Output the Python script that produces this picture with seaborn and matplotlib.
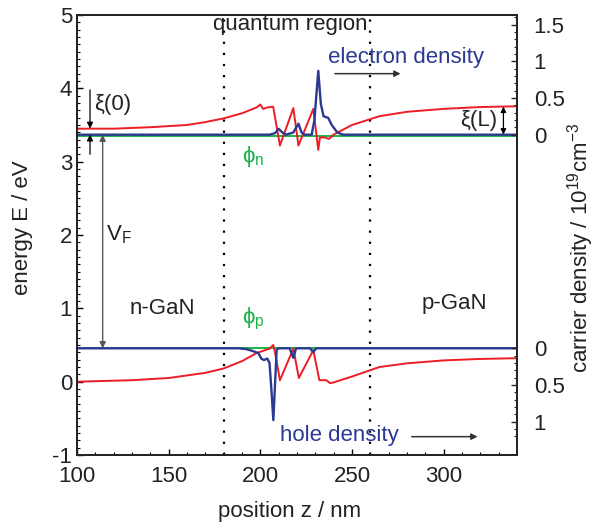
import numpy as np
import pandas as pd
import matplotlib
matplotlib.use("Agg")
import matplotlib.pyplot as plt
import seaborn as sns

# ---------------- data ----------------
# conduction band edge (eV)
cb_x = [100, 120, 140, 160, 170, 180, 190, 198, 200, 201.5, 204, 207, 210.7, 218, 220.8,
        228.9, 231.6, 232.5, 235, 237.5, 240, 250, 265, 280, 300, 320, 340]
cb_e = [3.45, 3.45, 3.47, 3.50, 3.54, 3.59, 3.66, 3.74, 3.78, 3.72, 3.74, 3.75, 3.22, 3.73, 3.22,
        3.72, 3.16, 3.33, 3.33, 3.31, 3.37, 3.50, 3.62, 3.68, 3.72, 3.745, 3.755]
# valence band edge (eV)
vb_x = [100, 130, 150, 170, 180, 190, 198, 205, 207.1, 208, 210.7, 218, 221, 228.9, 232.2,
        236, 238, 240, 250, 265, 280, 300, 320, 340]
vb_e = [0.0, 0.02, 0.05, 0.12, 0.18, 0.28, 0.39, 0.45, 0.50, 0.40, 0.02, 0.45, 0.05, 0.43, 0.02,
        0.02, -0.02, -0.01, 0.07, 0.20, 0.25, 0.29, 0.31, 0.32]
# electron density (1e19 cm^-3)
n_x = [100, 205, 208, 210, 212, 214, 218, 220.8, 222.5, 224, 228, 229.5, 231.6, 233, 234.5,
       237, 239, 242, 245, 340]
n_val = [0, 0, 0.02, 0.08, 0.03, 0, 0.03, 0.15, 0.03, 0, 0, 0.2, 0.87, 0.42, 0.25,
         0.23, 0.13, 0.03, 0, 0]
# hole density (1e19 cm^-3)
p_x = [100, 188, 192, 195, 198.9, 200.5, 202, 203.8, 205, 206, 207.1, 208, 208.9, 210,
       216, 218, 219.5, 227, 228.9, 230.5, 340]
p_val = [0, 0, 0.01, 0.03, 0.065, 0.14, 0.16, 0.14, 0.2, 0.55, 0.98, 0.5, 0.02, 0,
         0, 0.13, 0, 0, 0.05, 0, 0]
# quasi Fermi levels (eV)
phin_x = [100, 340]
phin_e = [3.355, 3.355]
phip_x = [100, 340]
phip_e = [0.462, 0.462]

n_zero = 3.368   # energy where electron density axis is 0
p_zero = 0.455   # energy where hole density axis is 0
top_ticks = [0, 0.5, 1, 1.5]
top_labels = ["0", "0.5", "1", "1.5"]
bot_ticks = [0, 0.5, 1]
bot_labels = ["0", "0.5", "1"]

RED = "#ee1c24"
BLUE = "#2b3990"
GREEN = "#1db34a"

sns.set_theme(style="ticks")
plt.rcParams["font.family"] = ["Liberation Sans", "DejaVu Sans"]
plt.rcParams["mathtext.default"] = "regular"
plt.rcParams["axes.unicode_minus"] = False
plt.rcParams["xtick.direction"] = "in"
plt.rcParams["ytick.direction"] = "in"
FS = 16

fig = plt.figure(figsize=(6.0, 5.27), dpi=100)
ax = fig.add_axes([77/600, 1-455/527, 440/600, 440/527])

df_cb = pd.DataFrame({"x": cb_x, "y": cb_e})
df_vb = pd.DataFrame({"x": vb_x, "y": vb_e})
df_n = pd.DataFrame({"x": n_x, "y": n_zero + np.array(n_val)})
df_p = pd.DataFrame({"x": p_x, "y": p_zero - np.array(p_val)})
df_fn = pd.DataFrame({"x": phin_x, "y": phin_e})
df_fp = pd.DataFrame({"x": phip_x, "y": phip_e})

sns.lineplot(data=df_fn, x="x", y="y", ax=ax, color=GREEN, lw=1.4, sort=False, estimator=None)
sns.lineplot(data=df_fp, x="x", y="y", ax=ax, color=GREEN, lw=1.4, sort=False, estimator=None)
sns.lineplot(data=df_cb, x="x", y="y", ax=ax, color=RED, lw=1.4, sort=False, estimator=None)
sns.lineplot(data=df_vb, x="x", y="y", ax=ax, color=RED, lw=1.4, sort=False, estimator=None)
sns.lineplot(data=df_n, x="x", y="y", ax=ax, color=BLUE, lw=1.7, sort=False, estimator=None)
sns.lineplot(data=df_p, x="x", y="y", ax=ax, color=BLUE, lw=1.7, sort=False, estimator=None)

for xv in [180, 260]:
    ax.axvline(xv, color="black", lw=1.6, ls=(0, (1, 4)), zorder=1)

ax.set_xlim(100, 340)
ax.set_ylim(-1, 5)
ax.set_xticks([100, 150, 200, 250, 300])
ax.set_xticks(np.arange(100, 341, 10), minor=True)
ax.set_yticks(np.arange(-1, 6, 1))
ax.set_yticks(np.arange(-1, 5.01, 0.1), minor=True)
ax.tick_params(axis="both", which="major", labelsize=FS, length=4, width=1, color="black", labelcolor="#222222")
ax.tick_params(axis="both", which="minor", length=2, width=0.8, color="black")
ax.tick_params(axis="x", pad=8)
ax.set_xlabel("position z / nm", fontsize=FS, color="#222222")
ax.set_ylabel("energy E / eV", fontsize=FS, color="#222222")
ax.xaxis.set_label_coords(0.484, -0.105)
ax.yaxis.set_label_coords(-0.10, 0.516)
for s in ax.spines.values():
    s.set_linewidth(1.3)
    s.set_color("black")

ax2 = ax.twinx()
ax2.set_ylim(-1, 5)
maj_pos = [n_zero + v for v in top_ticks] + [p_zero - v for v in bot_ticks]
ax2.set_yticks(maj_pos)
ax2.set_yticklabels(top_labels + bot_labels)
minor_pos = [n_zero + v for v in np.arange(0, 1.65, 0.1)] + [p_zero - v for v in np.arange(0, 1.25, 0.1)]
ax2.set_yticks(minor_pos, minor=True)
ax2.tick_params(axis="y", which="major", labelsize=FS, length=4, width=1, pad=12, labelcolor="#222222")
ax2.tick_params(axis="y", which="minor", length=2, width=0.8)
ax2.set_ylabel("carrier density / 10$^{19}$cm$^{-3}$", fontsize=FS, color="#222222")
ax2.yaxis.set_label_coords(1.11, 0.47)
for s in ax2.spines.values():
    s.set_linewidth(1.3)

# texts
ax.text(174, 4.87, "quantum region", fontsize=FS, color="#222222", ha="left", va="center")
ax.text(237, 4.42, "electron density", fontsize=FS, color=BLUE, ha="left", va="center")
ax.text(210.7, -0.73, "hole density", fontsize=FS, color=BLUE, ha="left", va="center")
ax.text(146.4, 1.0, "n-GaN", fontsize=FS, color="#222222", ha="center", va="center")
ax.text(306, 1.07, "p-GaN", fontsize=FS, color="#222222", ha="center", va="center")
ax.text(196, 3.07, "ϕ$_n$", fontsize=FS, color=GREEN, ha="center", va="center")
ax.text(196, 0.86, "ϕ$_p$", fontsize=FS, color=GREEN, ha="center", va="center")
ax.text(116, 2.0, "V$_F$", fontsize=FS, color="#222222", ha="left", va="center")
ax.text(109.5, 3.78, "ξ(0)", fontsize=FS, color="#222222", ha="left", va="center")
ax.text(319, 3.56, "ξ(L)", fontsize=FS, color="#222222", ha="center", va="center")

arrow_k = dict(arrowstyle="-|>", color="black", lw=0.9, mutation_scale=9, shrinkA=0, shrinkB=0)
ax.annotate("", xy=(107.1, 3.45), xytext=(107.1, 3.98), arrowprops=arrow_k)
ax.annotate("", xy=(107.1, 3.37), xytext=(107.1, 3.10), arrowprops=arrow_k)
ax.annotate("", xy=(114.0, 0.455), xytext=(114.0, 3.368),
            arrowprops=dict(arrowstyle="<|-|>", color="#555555", lw=1.0, mutation_scale=9, shrinkA=0, shrinkB=0))
ax.annotate("", xy=(332.6, 3.37), xytext=(332.6, 3.75),
            arrowprops=dict(arrowstyle="<|-|>", color="black", lw=0.9, mutation_scale=8, shrinkA=0, shrinkB=0))
ax.annotate("", xy=(276.5, 4.2), xytext=(240.7, 4.2),
            arrowprops=dict(arrowstyle="-|>", color="#333333", lw=1.1, mutation_scale=9, shrinkA=0, shrinkB=0))
ax.annotate("", xy=(318.5, -0.75), xytext=(282.6, -0.75),
            arrowprops=dict(arrowstyle="-|>", color="#333333", lw=1.1, mutation_scale=9, shrinkA=0, shrinkB=0))

fig.savefig("out.png", dpi=100)
